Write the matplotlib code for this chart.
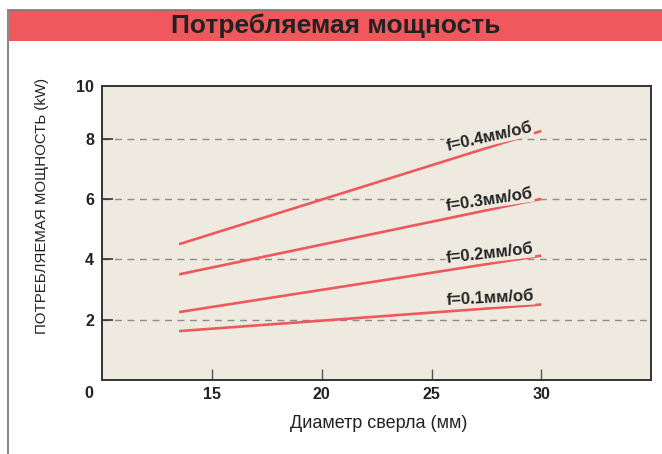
import numpy as np
import matplotlib.pyplot as plt
from matplotlib.patches import Rectangle
from matplotlib.lines import Line2D

plt.rcParams['font.family'] = ['Liberation Sans', 'DejaVu Sans']

# drill diameter range (mm) and power at each end (kW)
diam = [13.5, 30]
p01 = [1.62, 2.50]
p02 = [2.25, 4.12]
p03 = [3.50, 6.00]
p04 = [4.50, 8.25]
series = [p01, p02, p03, p04]
labels = ['f=0.1мм/об', 'f=0.2мм/об', 'f=0.3мм/об', 'f=0.4мм/об']
xticks = [15, 20, 25, 30]
yticks = [2, 4, 6, 8]

red = '#ef585c'
bg = '#eeeae0'

fig = plt.figure(figsize=(6.62, 4.54), dpi=100)

# frame and title band
fig.add_artist(Rectangle((8/662, 1 - 41/454), 1, 31/454, transform=fig.transFigure,
                         facecolor=red, edgecolor='none'))
fig.add_artist(Line2D([8/662, 1], [1 - 10/454] * 2, transform=fig.transFigure,
                      color='#777777', lw=1.2))
fig.add_artist(Line2D([8/662, 8/662], [0, 1 - 10/454], transform=fig.transFigure,
                      color='#8a8a8a', lw=1.5))
fig.text(336/662, 1 - 26/454, 'Потребляемая мощность', ha='center', va='center',
         fontsize=19, fontweight='bold', color='#222222')

ax = fig.add_axes([102.3/662, 1 - 380/454, (651 - 102.3)/662, (380 - 85.7)/454])
ax.set_facecolor(bg)
ax.set_xlim(10, 35)
ax.set_ylim(0, 9.75)

for y in yticks:
    ax.axhline(y, color='#8c8c8c', lw=1, ls=(0, (5, 4)), zorder=1)

for vals, lab in zip(series, labels):
    ax.plot(diam, vals, color=red, lw=1.9, solid_capstyle='butt', zorder=3)
    ang = np.degrees(np.arctan2(vals[1] - vals[0], diam[1] - diam[0]))
    xm = 27.7
    ym = np.interp(xm, diam, vals)
    ax.annotate(lab, (xm, ym), xytext=(0, 1.5), textcoords='offset points',
                ha='center', va='bottom', rotation=ang, rotation_mode='anchor',
                transform_rotates_text=True, fontsize=12, fontweight='bold',
                color='#222222', zorder=4,
                bbox=dict(facecolor=bg, edgecolor='none', pad=0.5))

ax.set_xticks(xticks)
ax.set_xticklabels([str(v) for v in xticks])
ax.set_yticks(yticks + [9.75])
ax.set_yticklabels([str(v) for v in yticks] + ['10'])
ax.tick_params(axis='x', direction='in', length=8, width=1, color='#555555', pad=5,
               labelsize=11.5)
ax.tick_params(axis='y', direction='in', length=8, width=1.2, color='#333333', pad=6,
               labelsize=11.5)
ax.yaxis.get_major_ticks()[-1].tick1line.set_visible(False)
for t in ax.get_xticklabels() + ax.get_yticklabels():
    t.set_fontweight('bold')
    t.set_color('#222222')
for s in ax.spines.values():
    s.set_color('#333333')
    s.set_linewidth(1.4)

fig.text(89/662, 1 - 393/454, '0', ha='center', va='center', fontsize=11.5,
         fontweight='bold', color='#222222')
fig.text(379/662, 1 - 424/454, 'Диаметр сверла (мм)', ha='center', va='center',
         fontsize=13, color='#222222')
fig.text(42/662, 1 - 206/454, 'ПОТРЕБЛЯЕМАЯ МОЩНОСТЬ (kW)', ha='center', va='center',
         rotation=90, fontsize=10.8, color='#222222')

fig.savefig('out.png', dpi=100)
